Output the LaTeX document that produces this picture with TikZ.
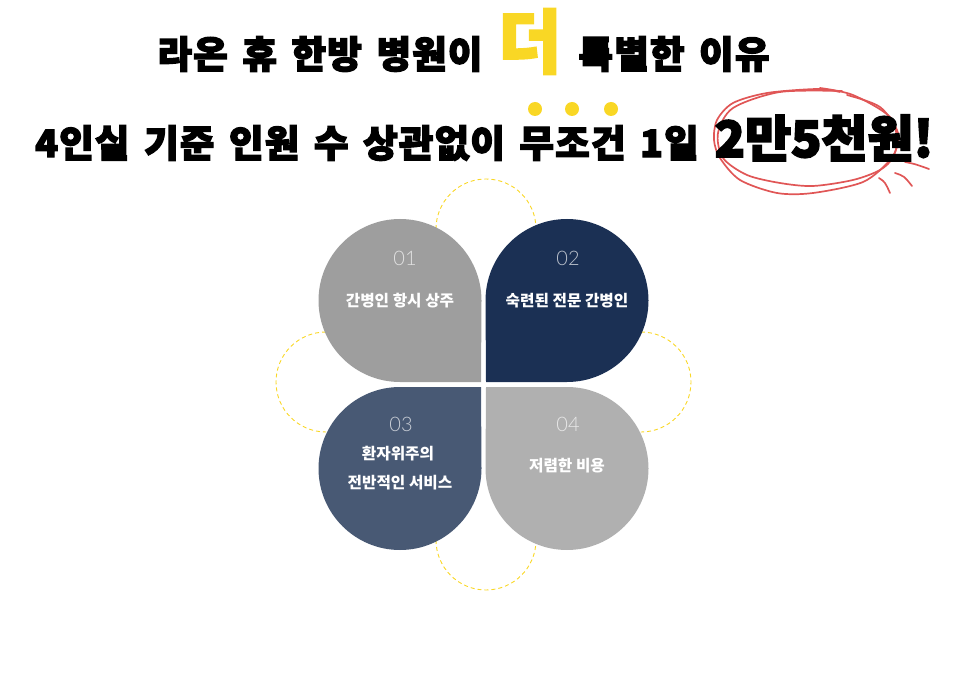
\documentclass[tikz,border=0pt]{standalone}
\usepackage{fontspec}
\newfontfamily\headfont[BoldFeatures={FakeBold=3.5},LetterSpace=3,WordSpace=1.5]{Noto Sans CJK KR}
\newfontfamily\pricefont[BoldFeatures={FakeBold=3.5}]{Noto Sans CJK KR}
\newfontfamily\labelfont{Noto Sans CJK KR}
\newfontfamily\numfont{Lato Light}
\definecolor{petalgrey}{HTML}{9E9E9E}
\definecolor{petalnavy}{HTML}{1B3054}
\definecolor{petalslate}{HTML}{485974}
\definecolor{petallight}{HTML}{B0B0B0}
\definecolor{markyellow}{HTML}{F9D725}
\definecolor{scribble}{HTML}{E05656}
\tikzset{
  headline/.style={anchor=center,inner sep=0pt,font=\headfont\bfseries\fontsize{37.6}{37.6}\selectfont},
  petallabel/.style={text=white,inner sep=0pt,font=\labelfont\bfseries\fontsize{15.7}{15.7}\selectfont},
  petalnumber/.style={text=white,text opacity=0.7,inner sep=0pt,font=\numfont\fontsize{20}{20}\selectfont},
  dasharc/.style={draw=markyellow,line width=0.9pt,dash pattern=on 4pt off 3pt},
  scribbleline/.style={draw=scribble,line width=1.7pt,line cap=round}
}
\begin{document}
\begin{tikzpicture}[x=1pt,y=-1pt]
\useasboundingbox (0,0) rectangle (966,684);
% The dashed arcs
\draw[dasharc] (436,229) arc (180:360:50);
\draw[dasharc] (326,332) arc (270:90:50);
\draw[dasharc] (641,332) arc (-90:90:50);
\draw[dasharc] (436,540) arc (180:0:50);
% The petals
\fill[petalgrey] (481,382) -- (400,382) arc (90:270:81.5) arc (270:360:81.5) -- cycle;
\fill[petalnavy] (486,382) -- (567,382) arc (90:-90:81.5) arc (-90:-180:81.5) -- cycle;
\fill[petalslate] (481,387) -- (400,387) arc (-90:-270:81.5) arc (90:0:81.5) -- cycle;
\fill[petallight] (486,387) -- (567,387) arc (-90:90:81.5) arc (90:180:81.5) -- cycle;
% The petal texts
\node[petalnumber] (num1) at (405,258) {01};
\node[petalnumber] (num2) at (568,258) {02};
\node[petalnumber] (num3) at (401,424) {03};
\node[petalnumber] (num4) at (568,424) {04};
\node[petallabel] (care1) at (400,301) {간병인 항시 상주};
\node[petallabel] (care2) at (567,301) {숙련된 전문 간병인};
\node[petallabel] (care3) at (398,454) {환자위주의};
\node[petallabel] (care3b) at (400,483) {전반적인 서비스};
\node[petallabel] (care4) at (567,466) {저렴한 비용};
% The scribble
\draw[scribbleline] plot[smooth] coordinates {(840,92) (817,89) (767,93) (733,103) (717,120) (714,140) (720,158) (740,180) (777,193) (813,193) (863,182) (890,160) (897,143) (890,117) (853,95) (820,88)};
\draw[scribbleline] plot[smooth] coordinates {(842,91) (780,92) (733,108) (718,133) (723,158) (747,175) (780,183) (813,186) (853,180) (880,170) (893,157) (898,133) (880,107) (847,95)};
\draw[scribbleline] (879,178) .. controls (885,182) .. (890,193);
\draw[scribbleline] (895,173) .. controls (904,176) .. (912,186);
\draw[scribbleline] (905,162) .. controls (915,164) .. (929,169);
% The headlines
\node[headline] (head1) at (320,54) {라온 휴 한방 병원이};
\node[headline,text=markyellow,font=\pricefont\bfseries\fontsize{68}{68}\selectfont] (more) at (530,41.5) {\scalebox{1}[1.02]{더}};
\node[headline] (head2) at (674,54) {특별한 이유};
\node[headline] (head3) at (367,143) {4인실 기준 인원 수 상관없이 무조건 1일};
\node[headline,font=\pricefont\bfseries\fontsize{50}{50}\selectfont] (price) at (824,138) {2만5천원!};
% The dots
\foreach \dotx in {535,572,611}
  \fill[markyellow] (\dotx,109) circle (7);
\end{tikzpicture}
\end{document}
